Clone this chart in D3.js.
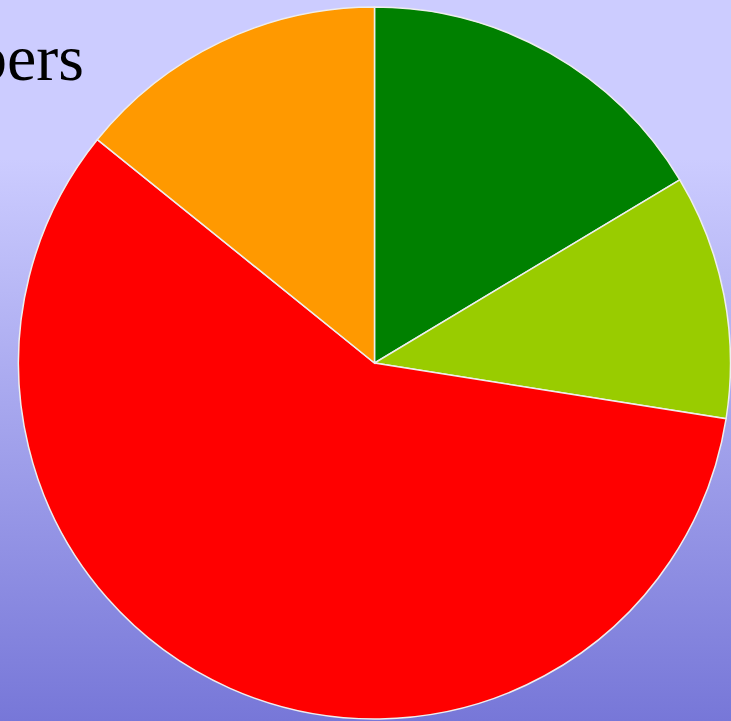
<!DOCTYPE html>
<html>
<head>
<meta charset="utf-8">
<script src="https://cdn.jsdelivr.net/npm/d3@7"></script>
<style>
  html, body { margin: 0; padding: 0; overflow: hidden; }
</style>
</head>
<body>
<div class="container"></div>
<script>
// slice data, clockwise from 12 o'clock
const labels = ["A", "B", "C", "D"];
const values = [16.4, 11.1, 58.3, 14.2];
const colors = ["#008000", "#99cc00", "#ff0000", "#ff9900"];
const title = "Numbers";

const width = 731, height = 721;

let svg = d3.select(".container")
  .append("svg")
  .attr("width", width)
  .attr("height", height);

let grad = svg.append("defs")
  .append("linearGradient")
  .attr("id", "bg")
  .attr("x1", 0).attr("y1", 0)
  .attr("x2", 0).attr("y2", 1);
grad.append("stop").attr("offset", "0%").attr("stop-color", "#ccccff");
grad.append("stop").attr("offset", "22%").attr("stop-color", "#ccccff");
grad.append("stop").attr("offset", "100%").attr("stop-color", "#7777d8");

svg.append("rect")
  .attr("width", width)
  .attr("height", height)
  .attr("fill", "url(#bg)");

svg.append("text")
  .attr("x", 84)
  .attr("y", 80)
  .attr("text-anchor", "end")
  .attr("font-family", "'Liberation Serif', 'Times New Roman', serif")
  .attr("font-size", 66)
  .attr("fill", "#000")
  .text(title);

let pie = d3.pie().sort(null).value(d => d)(values);
let arc = d3.arc().innerRadius(0).outerRadius(356);

svg.append("g")
  .attr("transform", "translate(374.5,363)")
  .selectAll("path")
  .data(pie)
  .join("path")
  .attr("d", arc)
  .attr("fill", (d, i) => colors[i])
  .attr("stroke", "#eeeeee")
  .attr("stroke-width", 1.5)
  .append("title")
  .text((d, i) => labels[i]);
</script>
</body>
</html>
